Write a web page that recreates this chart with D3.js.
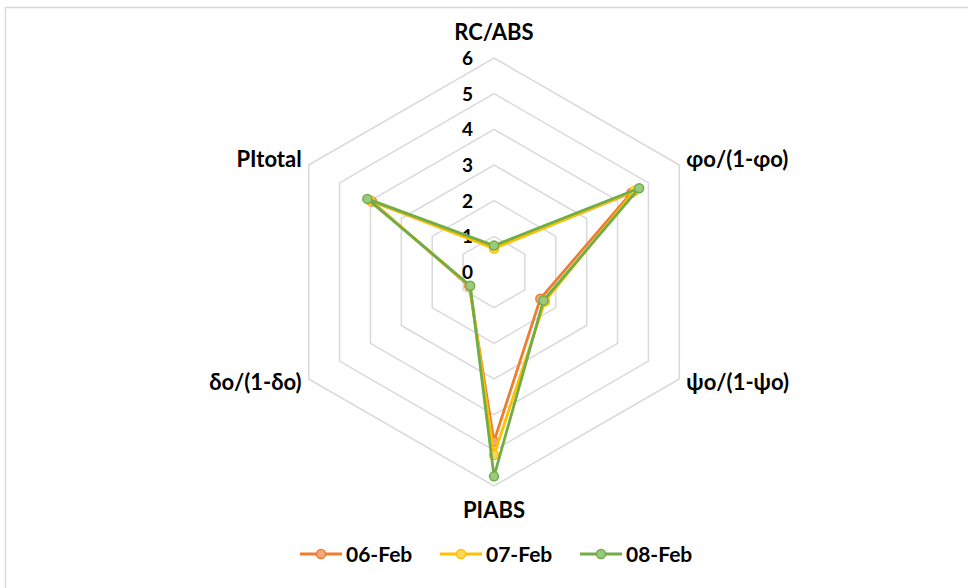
<!DOCTYPE html>
<html><head><meta charset="utf-8">
<script src="https://cdn.jsdelivr.net/npm/d3@7"></script>
<style>body{margin:0;background:#fff}svg{display:block}</style>
</head><body>
<svg id="c" width="968" height="588"></svg>
<script>
const categories = ["RC/ABS", "φo/(1-φo)", "ψo/(1-ψo)", "PIABS", "δo/(1-δo)", "PItotal"];
const seriesNames = ["06-Feb", "07-Feb", "08-Feb"];
const feb06 = [0.68, 4.45, 1.5, 4.75, 0.8, 3.95];
const feb07 = [0.66, 4.55, 1.65, 5.13, 0.78, 4.0];
const feb08 = [0.74, 4.7, 1.6, 5.73, 0.77, 4.1];
const tickValues = [0, 1, 2, 3, 4, 5, 6];
const colors = ["#ED7D31", "#FFC000", "#70AD47"];
const fills = ["#F4A77A", "#FFD659", "#9BC97F"];

const svg = d3.select("#c");
const font = "Lato, 'Open Sans', sans-serif";
svg.append("rect").attr("x", 5.5).attr("y", 7.5).attr("width", 980).attr("height", 600)
  .attr("fill", "#fff").attr("stroke", "#d9d9d9").attr("stroke-width", 1.5);

const cx = 494, cy = 272;
const r = d3.scaleLinear().domain([0, 6]).range([0, 214]);
const ang = d3.scalePoint().domain(categories).range([0, 2 * Math.PI * 5 / 6]);
const pt = (c, v) => [cx + r(v) * Math.sin(ang(c)), cy - r(v) * Math.cos(ang(c))];

const g = svg.append("g");
tickValues.filter(t => t > 0).forEach(t => {
  g.append("path")
    .attr("d", d3.line()(categories.map(c => pt(c, t))) + "Z")
    .attr("fill", "none").attr("stroke", "#d9d9d9").attr("stroke-width", 1.5);
});

tickValues.forEach(t => {
  g.append("text").attr("x", cx - 21).attr("y", cy - r(t) + 7)
    .attr("text-anchor", "end").attr("font-family", font).attr("font-weight", "bold")
    .attr("font-size", 19).attr("fill", "#000").text(t);
});

const labelPos = [
  {dx: 0, dy: -18, anchor: "middle"},
  {dx: 7, dy: 2, anchor: "start"},
  {dx: 7, dy: 11, anchor: "start"},
  {dx: 0, dy: 32, anchor: "middle"},
  {dx: -7, dy: 11, anchor: "end"},
  {dx: -7, dy: 2, anchor: "end"}
];
categories.forEach((c, i) => {
  const [x, y] = pt(c, 6);
  g.append("text").attr("x", x + labelPos[i].dx).attr("y", y + labelPos[i].dy)
    .attr("text-anchor", labelPos[i].anchor).attr("font-family", font).attr("font-weight", "bold")
    .attr("font-size", 22).attr("fill", "#000").text(c);
});

const data = [feb06, feb07, feb08];
data.forEach((vals, si) => {
  const pts = categories.map((c, i) => pt(c, vals[i]));
  g.append("path").attr("d", d3.line()(pts) + "Z")
    .attr("fill", "none").attr("stroke", colors[si]).attr("stroke-width", 2.8)
    .attr("stroke-linejoin", "round");
  g.selectAll(null).data(pts).enter().append("circle")
    .attr("cx", d => d[0]).attr("cy", d => d[1]).attr("r", 4.5)
    .attr("fill", fills[si]).attr("stroke", colors[si]).attr("stroke-width", 1.5);
});

const legX = [300, 440, 580];
seriesNames.forEach((n, i) => {
  const lg = svg.append("g").attr("transform", `translate(${legX[i]},554)`);
  lg.append("line").attr("x1", 0).attr("x2", 42).attr("y1", 0).attr("y2", 0)
    .attr("stroke", colors[i]).attr("stroke-width", 2.8);
  lg.append("circle").attr("cx", 21).attr("cy", 0).attr("r", 4.5)
    .attr("fill", fills[i]).attr("stroke", colors[i]).attr("stroke-width", 1.5);
  lg.append("text").attr("x", 46).attr("y", 8).attr("font-family", font)
    .attr("font-weight", "bold").attr("font-size", 21).attr("fill", "#000").text(n);
});
</script>
</body></html>
